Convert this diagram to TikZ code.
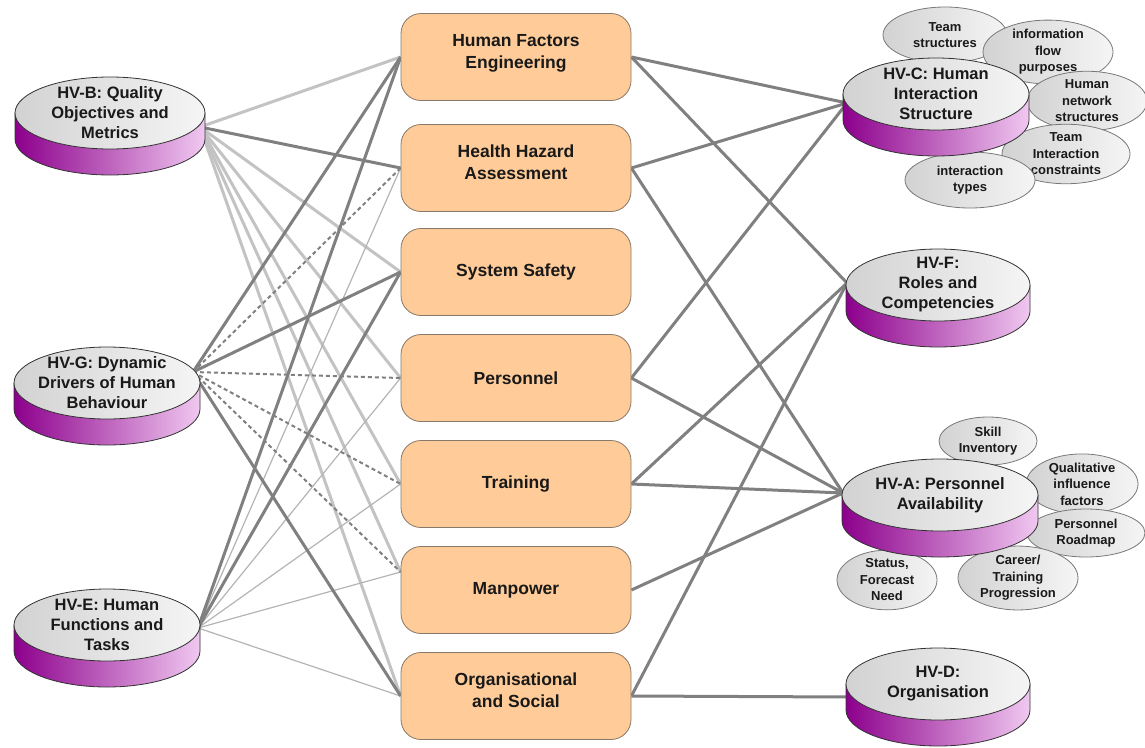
\documentclass[tikz,border=0pt]{standalone}
\usepackage{fontspec}
\setmainfont{Liberation Sans}
\usetikzlibrary{shapes.geometric}
\pgfdeclarelayer{bg}
\pgfsetlayers{bg,main}
\definecolor{boxfill}{RGB}{255,204,153}
\definecolor{boxline}{RGB}{135,120,105}
\definecolor{darkln}{RGB}{128,128,128}
\definecolor{lightln}{RGB}{195,195,195}
\definecolor{thinln}{RGB}{180,180,180}
\definecolor{cylL}{RGB}{140,0,140}
\definecolor{cylR}{RGB}{240,200,240}
\definecolor{cylline}{RGB}{50,50,50}
\definecolor{topA}{RGB}{245,245,245}
\definecolor{topB}{RGB}{210,210,210}
\definecolor{satline}{RGB}{120,120,120}
\definecolor{txt}{RGB}{25,25,25}
\newcommand{\boxfont}{\fontsize{17.5}{22}\selectfont\bfseries}
\newcommand{\cylfont}{\fontsize{16.5}{20}\selectfont\bfseries}
\newcommand{\satfont}{\fontsize{13}{16.5}\selectfont\bfseries}
\newcommand{\lowstrut}{\rule[-11pt]{0pt}{0pt}}
\newcommand{\hvcyl}[5]{%
\begin{scope}[shift={(#2,-#3)}]
  \shade[left color=cylL, right color=cylR] (-#4,0) -- (-#4,-26) arc[start angle=180, end angle=360, x radius=#4pt, y radius=36pt] -- (#4,0) -- cycle;
  \draw[cylline, line width=0.8pt] (-#4,0) -- (-#4,-26) arc[start angle=180, end angle=360, x radius=#4pt, y radius=36pt] -- (#4,0);
  \draw[cylline, line width=0.8pt, left color=topB, right color=topA] (0,0) ellipse [x radius=#4pt, y radius=36pt];
  \node[cyltext] (#1) at (0,0) {#5};
\end{scope}}
\begin{document}
\begin{tikzpicture}[x=1pt, y=1pt,
  cbox/.style={draw=boxline, fill=boxfill, rounded corners=20pt, minimum width=230pt, minimum height=87pt, inner sep=0pt, align=center, font=\boxfont, text=txt, line width=0.8pt},
  cyltext/.style={inner sep=0pt, align=center, font=\cylfont, text=txt},
  sat/.style={ellipse, draw=satline, line width=0.8pt, left color=topB, right color=topA, inner sep=0pt, align=center, font=\satfont, text=txt},
  lnDark/.style={draw=darkln, line width=3pt},
  lnLight/.style={draw=lightln, line width=3pt},
  lnThin/.style={draw=thinln, line width=1.2pt},
  lnDash/.style={draw=darkln, line width=2pt, dash pattern=on 4pt off 3pt}]
\useasboundingbox (0,0) rectangle (1145,-747);

% central boxes
\node[cbox] (hfe) at (516,-57) {Human Factors\\Engineering\lowstrut};
\node[cbox] (hha) at (516,-168) {Health Hazard\\Assessment\lowstrut};
\node[cbox] (ss)  at (516,-272) {System Safety};
\node[cbox] (per) at (516,-378) {Personnel};
\node[cbox] (tr)  at (516,-484) {Training};
\node[cbox] (mp)  at (516,-590) {Manpower};
\node[cbox] (org) at (516,-696) {Organisational\\and Social\lowstrut};

% left cylinders
\hvcyl{hvb}{110}{113}{95}{HV-B: Quality\\Objectives and\\Metrics}
\hvcyl{hvg}{107}{383}{93}{HV-G: Dynamic\\Drivers of Human\\Behaviour}
\hvcyl{hve}{107}{625}{93}{HV-E: Human\\Functions and\\Tasks}

% HV-C cluster
\node[sat, minimum width=124pt, minimum height=56pt] (ts) at (945,-35) {Team\\structures};
\node[sat, minimum width=130pt, minimum height=50pt] (ifp) at (1048,-52) {information\\flow\\purposes};
\node[sat, minimum width=120pt, minimum height=54pt] (hns) at (1087,-101) {Human\\network\\structures};
\node[sat, minimum width=128pt, minimum height=54pt] (tic) at (1066,-154) {Team\\Interaction\\constraints};
\node[sat, minimum width=130pt, minimum height=56pt] (it) at (970,-180) {interaction\\types};
\hvcyl{hvc}{936}{94}{93}{HV-C: Human\\Interaction\\Structure}

\hvcyl{hvf}{938}{285}{92}{HV-F:\\Roles and\\Competencies}

% HV-A cluster
\node[sat, minimum width=98pt, minimum height=48pt] (si) at (988,-441) {Skill\\Inventory};
\node[sat, minimum width=112pt, minimum height=52pt] (qif) at (1082,-484) {Qualitative\\influence\\factors};
\node[sat, minimum width=118pt, minimum height=48pt] (pr) at (1086,-533) {Personnel\\Roadmap};
\node[sat, minimum width=100pt, minimum height=50pt] (sfn) at (887,-580) {Status,\\Forecast\\Need};
\node[sat, minimum width=120pt, minimum height=52pt] (ctp) at (1018,-578) {Career/\\Training\\Progression};
\hvcyl{hva}{940}{495}{98}{HV-A: Personnel\\Availability}

\hvcyl{hvd}{938}{684}{92}{HV-D:\\Organisation}

% connector anchors on the cylinders
\coordinate (hvbA) at (200,-127);
\coordinate (hvgA) at (193,-372);
\coordinate (hveA) at (198,-628);
\coordinate (hvcA) at (847,-103);
\coordinate (hvfA) at (847,-283);
\coordinate (hvaA) at (843,-493);
\coordinate (hvdA) at (850,-697);

\begin{pgfonlayer}{bg}
% light lines from HV-B
\draw[lnLight] (hvbA) -- (hfe.west);
\draw[lnLight] (hvbA) -- (ss.west);
\draw[lnLight] (hvbA) -- (per.west);
\draw[lnLight] (hvbA) -- (tr.west);
\draw[lnLight] (hvbA) -- ([yshift=18pt]mp.west);
\draw[lnLight] (hvbA) -- (org.west);
% thin lines from HV-E
\draw[lnThin] (hveA) -- (hha.west);
\draw[lnThin] (hveA) -- (per.west);
\draw[lnThin] (hveA) -- (tr.west);
\draw[lnThin] (hveA) -- ([yshift=18pt]mp.west);
\draw[lnThin] (hveA) -- (org.west);
% dashed lines from HV-G
\draw[lnDash] (hvgA) -- (hha.west);
\draw[lnDash] (hvgA) -- (per.west);
\draw[lnDash] (hvgA) -- (tr.west);
\draw[lnDash] (hvgA) -- ([yshift=18pt]mp.west);
% dark lines on the left
\draw[lnDark] (hvbA) -- (hha.west);
\draw[lnDark] (hvgA) -- (hfe.west);
\draw[lnDark] (hvgA) -- (ss.west);
\draw[lnDark] (hvgA) -- (org.west);
\draw[lnDark] (hveA) -- (hfe.west);
\draw[lnDark] (hveA) -- (ss.west);
% right side
\draw[lnDark] (hfe.east) -- (hvcA);
\draw[lnDark] (hfe.east) -- (hvfA);
\draw[lnDark] (hha.east) -- (hvcA);
\draw[lnDark] (hha.east) -- (hvaA);
\draw[lnDark] (per.east) -- (hvcA);
\draw[lnDark] (per.east) -- (hvaA);
\draw[lnDark] (tr.east) -- (hvfA);
\draw[lnDark] (tr.east) -- (hvaA);
\draw[lnDark] (mp.east) -- (hvaA);
\draw[lnDark] (org.east) -- (hvfA);
\draw[lnDark] (org.east) -- (hvdA);
\end{pgfonlayer}
\end{tikzpicture}
\end{document}
